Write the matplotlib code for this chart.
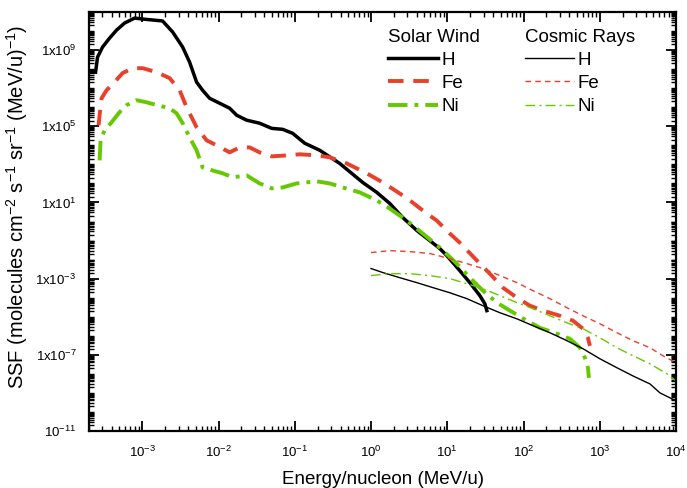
import numpy as np
import matplotlib
matplotlib.use('Agg')
import matplotlib.pyplot as plt
from matplotlib.ticker import LogLocator, NullFormatter

plt.rcParams['font.family'] = ['Liberation Sans', 'DejaVu Sans']
plt.rcParams['mathtext.default'] = 'regular'

# values, as log10(energy) / log10(SSF)
sw_h_logE = [-3.613, -3.587, -3.521, -3.429, -3.337, -3.232, -3.101, -2.996, -2.865, -2.734,
             -2.602, -2.471, -2.380, -2.288, -2.209, -2.117, -1.986, -1.855, -1.762, -1.631,
             -1.461, -1.303, -1.159, -1.028, -0.870, -0.673, -0.411, -0.109, 0.075, 0.245,
             0.416, 0.600, 0.770, 0.902, 0.994, 1.164, 1.296, 1.427, 1.493, 1.519]
sw_h_logS = [7.84, 8.63, 9.16, 9.63, 10.05, 10.42, 10.68, 10.63, 10.58, 10.53,
             9.95, 9.16, 8.37, 7.32, 6.89, 6.47, 6.21, 5.95, 5.58, 5.32,
             5.16, 4.89, 4.84, 4.63, 4.11, 3.74, 3.05, 2.05, 1.53, 0.95,
             0.21, -0.47, -1.0, -1.42, -1.79, -2.58, -3.21, -3.89, -4.32, -4.68]

sw_fe_logE = [-3.573, -3.560, -3.534, -3.469, -3.364, -3.259, -3.127, -2.996, -2.812, -2.642,
              -2.510, -2.419, -2.288, -2.156, -2.025, -1.855, -1.723, -1.592, -1.461, -1.303,
              -1.106, -0.935, -0.712, -0.542, -0.319, -0.056, 0.154, 0.377, 0.508, 0.731,
              0.862, 1.033, 1.164, 1.427, 1.558, 1.729, 1.913, 2.084, 2.255, 2.478,
              2.649, 2.780, 2.845, 2.871]
sw_fe_logS = [5.05, 5.58, 6.47, 6.89, 7.32, 7.79, 8.05, 8.05, 7.84, 7.53,
              6.89, 6.0, 4.95, 4.26, 4.0, 3.63, 3.89, 3.89, 3.63, 3.42,
              3.47, 3.53, 3.47, 3.37, 3.05, 2.53, 2.05, 1.47, 1.11, 0.42,
              0.05, -0.63, -1.11, -2.21, -2.74, -3.47, -4.0, -4.42, -4.68, -4.95,
              -5.21, -5.63, -6.11, -6.53]

sw_ni_logE = [-3.560, -3.547, -3.495, -3.403, -3.298, -3.206, -3.075, -2.944, -2.812, -2.642,
              -2.550, -2.471, -2.380, -2.288, -2.209, -2.077, -1.946, -1.815, -1.631, -1.461,
              -1.303, -1.159, -0.975, -0.712, -0.542, -0.372, -0.149, 0.075, 0.245, 0.469,
              0.679, 0.902, 1.125, 1.296, 1.467, 1.651, 1.822, 2.045, 2.215, 2.439,
              2.609, 2.740, 2.806, 2.845, 2.858]
sw_ni_logS = [3.21, 4.26, 4.79, 5.21, 5.74, 6.11, 6.37, 6.26, 6.11, 5.95,
              5.68, 5.16, 4.42, 3.74, 2.84, 2.68, 2.53, 2.32, 2.42, 2.0,
              1.74, 1.79, 2.0, 2.11, 2.0, 1.79, 1.53, 1.11, 0.68, 0.05,
              -0.63, -1.37, -2.21, -2.95, -3.63, -4.26, -4.68, -5.21, -5.58, -5.89,
              -6.16, -6.63, -7.16, -7.68, -8.21]

cr_h_logE = [0.0, 0.154, 0.377, 0.600, 0.810, 1.033, 1.256, 1.467, 1.690, 1.913, 2.123,
             2.346, 2.570, 2.780, 3.003, 3.226, 3.436, 3.659, 3.790, 3.921, 4.0]
cr_h_logS = [-2.47, -2.68, -2.95, -3.21, -3.47, -3.74, -4.05, -4.42, -4.79, -5.11, -5.47,
             -5.84, -6.26, -6.68, -7.21, -7.68, -8.11, -8.53, -9.0, -9.26, -9.42]

cr_fe_logE = [0.0, 0.245, 0.508, 0.770, 1.033, 1.256, 1.467, 1.690, 1.913, 2.123,
              2.346, 2.570, 2.780, 3.003, 3.226, 3.436, 3.659, 3.829, 4.0]
cr_fe_logS = [-1.63, -1.53, -1.58, -1.68, -1.95, -2.21, -2.47, -2.84, -3.21, -3.63,
              -4.05, -4.53, -4.95, -5.37, -5.84, -6.26, -6.63, -7.05, -7.42]

cr_ni_logE = [0.0, 0.245, 0.508, 0.770, 1.033, 1.256, 1.467, 1.690, 1.913, 2.123,
              2.346, 2.570, 2.780, 3.003, 3.226, 3.436, 3.659, 3.882, 4.0]
cr_ni_logS = [-2.84, -2.74, -2.74, -2.84, -3.0, -3.26, -3.53, -3.89, -4.26, -4.58,
              -4.95, -5.32, -5.63, -6.11, -6.63, -7.05, -7.47, -8.0, -8.37]

xtick_exps = [-3, -2, -1, 0, 1, 2, 3, 4]
ytick_vals = [1e-11, 1e-7, 1e-3, 1e1, 1e5, 1e9]
ytick_labels = [r'$10^{-11}$', r'1x10$^{-7}$', r'1x10$^{-3}$', r'1x10$^{1}$',
                r'1x10$^{5}$', r'1x10$^{9}$']

red = '#e8402a'
green = '#66c800'

fig = plt.figure(figsize=(6.87, 4.88), dpi=100)
ax = fig.add_axes([89/687, 1-431/488, 587/687, 419/488])

def p(le, ls):
    return 10**np.array(le), 10**np.array(ls)

h1, = ax.plot(*p(sw_h_logE, sw_h_logS), color='black', lw=2.5, label='H')
f1, = ax.plot(*p(sw_fe_logE, sw_fe_logS), color=red, lw=2.8, dashes=(4, 2.5), label='Fe')
n1, = ax.plot(*p(sw_ni_logE, sw_ni_logS), color=green, lw=2.8, dashes=(5, 1.8, 1, 1.8), label='Ni')
h2, = ax.plot(*p(cr_h_logE, cr_h_logS), color='black', lw=1.0, label='H')
f2, = ax.plot(*p(cr_fe_logE, cr_fe_logS), color=red, lw=1.0, dashes=(4, 3), label='Fe')
n2, = ax.plot(*p(cr_ni_logE, cr_ni_logS), color=green, lw=1.0, dashes=(7, 3, 1.5, 3), label='Ni')

ax.set_xscale('log')
ax.set_yscale('log')
ax.set_xlim(2e-4, 1e4)
ax.set_ylim(1e-11, 1e11)

ax.set_xticks([10.0**e for e in xtick_exps])
ax.set_xticklabels([r'$10^{%d}$' % e for e in xtick_exps])
ax.xaxis.set_minor_locator(LogLocator(base=10, subs=np.arange(2, 10), numticks=50))
ax.xaxis.set_minor_formatter(NullFormatter())

ax.set_yticks(ytick_vals)
ax.set_yticklabels(ytick_labels)
ax.yaxis.set_minor_locator(LogLocator(base=10, subs=np.arange(1, 10), numticks=50))
ax.yaxis.set_minor_formatter(NullFormatter())

ax.tick_params(which='both', direction='in', top=True, right=True, labelsize=9.5)
ax.tick_params(which='major', length=7, width=1.3)
ax.tick_params(which='minor', length=3.5, width=1.0)
ax.tick_params(axis='x', which='major', pad=10)
ax.tick_params(axis='y', which='major', pad=9)
for s in ax.spines.values():
    s.set_linewidth(1.6)

ax.set_xlabel('Energy/nucleon (MeV/u)', fontsize=13.5)
ax.xaxis.set_label_coords(0.5, -0.095)
ax.set_ylabel(r'SSF (molecules cm$^{-2}$ s$^{-1}$ sr$^{-1}$ (MeV/u)$^{-1}$)', fontsize=14.5)
ax.yaxis.set_label_coords(-0.1, 0.535)

leg_kw = dict(loc='upper left', frameon=False, fontsize=13.5, title_fontsize=13.5,
              handlelength=2.65, handletextpad=0.2, labelspacing=0.32,
              borderpad=0, borderaxespad=0, alignment='left')
leg1 = ax.legend(handles=[h1, f1, n1], title='Solar Wind',
                 bbox_to_anchor=(0.51, 0.96), **leg_kw)
ax.add_artist(leg1)
ax.legend(handles=[h2, f2, n2], title='Cosmic Rays',
          bbox_to_anchor=(0.742, 0.96), **leg_kw)

fig.savefig('out.png', dpi=100)
